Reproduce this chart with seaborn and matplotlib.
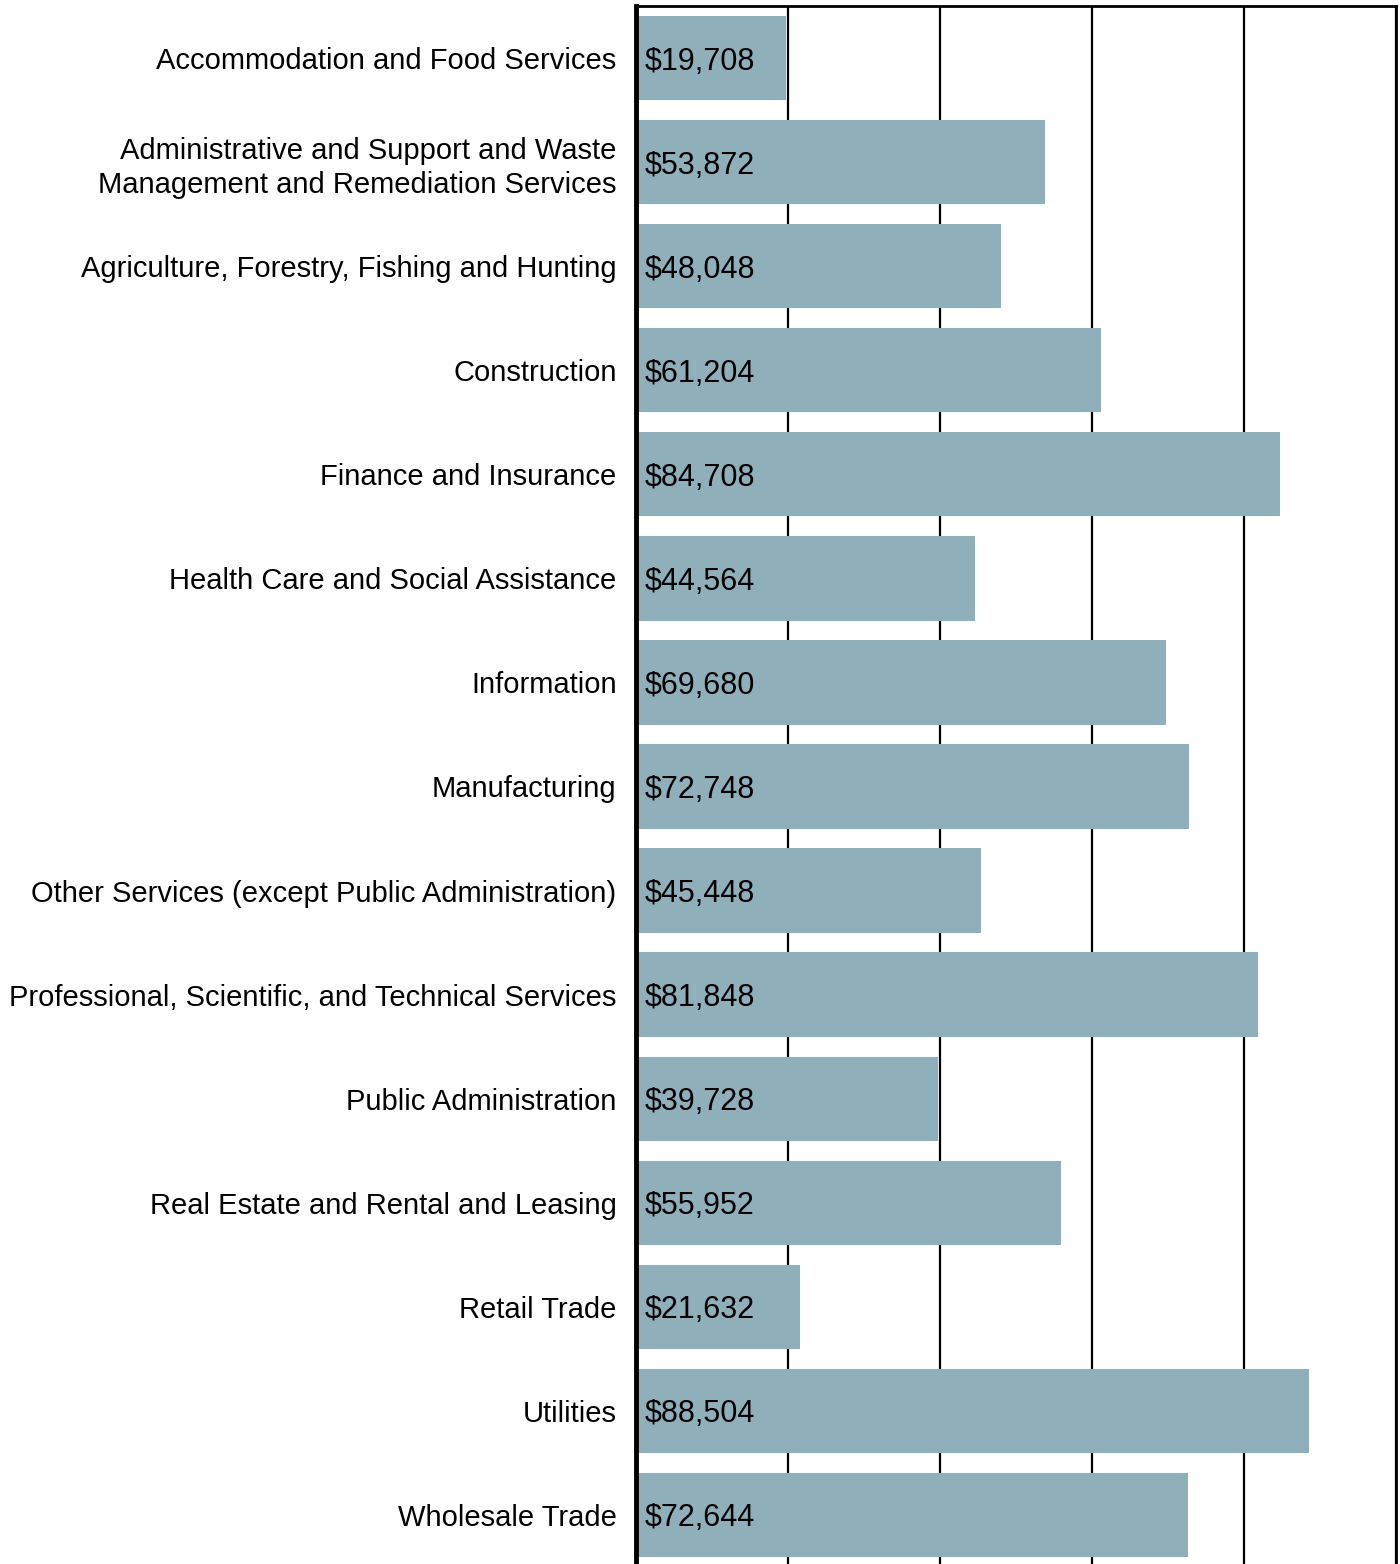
import numpy as np
import pandas as pd
import seaborn as sns
import matplotlib
matplotlib.use("Agg")
import matplotlib.pyplot as plt

industries = [
    "Accommodation and Food Services",
    "Administrative and Support and Waste\nManagement and Remediation Services",
    "Agriculture, Forestry, Fishing and Hunting",
    "Construction",
    "Finance and Insurance",
    "Health Care and Social Assistance",
    "Information",
    "Manufacturing",
    "Other Services (except Public Administration)",
    "Professional, Scientific, and Technical Services",
    "Public Administration",
    "Real Estate and Rental and Leasing",
    "Retail Trade",
    "Utilities",
    "Wholesale Trade",
]
wages = [19708, 53872, 48048, 61204, 84708, 44564, 69680, 72748,
         45448, 81848, 39728, 55952, 21632, 88504, 72644]
grid_ticks = [0, 20000, 40000, 60000, 80000, 100000]

df = pd.DataFrame({"industry": industries, "wage": wages})

sns.set_style("white")
plt.rcParams['font.family'] = ['Liberation Sans', 'DejaVu Sans']

fig = plt.figure(figsize=(14, 15.64), dpi=100)
ax = fig.add_axes([636 / 1400, -3 / 1564, 760 / 1400, 1561 / 1564])

sns.barplot(data=df, x="wage", y="industry", color="#8fafbb", saturation=1,
            width=0.81, linewidth=0, ax=ax, zorder=3)

ax.set_xlim(0, 100000)
ax.set_ylim(14.5, -0.5)
ax.set_xticks(grid_ticks)
ax.set_xticklabels([])
ax.tick_params(axis="x", length=0)
ax.tick_params(axis="y", length=0, labelsize=21, pad=14, labelcolor="black")
for lbl in ax.get_yticklabels():
    lbl.set_linespacing(1.25)
ax.grid(axis="x", color="black", linewidth=1.6, zorder=0)
ax.set_axisbelow(True)
ax.set_xlabel("")
ax.set_ylabel("")

ax.spines["bottom"].set_visible(False)
ax.spines["left"].set_linewidth(3.5)
ax.spines["top"].set_linewidth(2)
ax.spines["right"].set_linewidth(2)
for side in ["left", "top", "right"]:
    ax.spines[side].set_color("black")
    ax.spines[side].set_zorder(5)

for i, w in enumerate(wages):
    ax.text(1200, i, f"${w:,}", va="center_baseline", ha="left", fontsize=22,
            color="black", zorder=6)

fig.savefig("out.png", dpi=100)
